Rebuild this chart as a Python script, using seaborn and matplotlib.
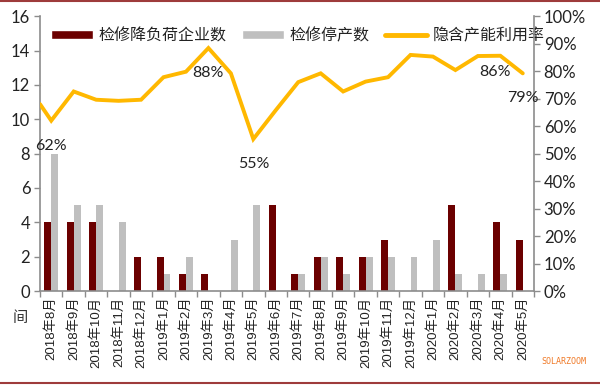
import numpy as np
import pandas as pd
import matplotlib
matplotlib.use("Agg")
import matplotlib.pyplot as plt
import seaborn as sns
from matplotlib.lines import Line2D
from matplotlib.patches import Patch

months = ["2018年8月", "2018年9月", "2018年10月", "2018年11月", "2018年12月",
          "2019年1月", "2019年2月", "2019年3月", "2019年4月", "2019年5月",
          "2019年6月", "2019年7月", "2019年8月", "2019年9月", "2019年10月",
          "2019年11月", "2019年12月", "2020年1月", "2020年2月", "2020年3月",
          "2020年4月", "2020年5月"]
reduced_load = [4, 4, 4, 0, 2, 2, 1, 1, 0, 0, 5, 1, 2, 2, 2, 3, 0, 0, 5, 0, 4, 3]
shutdown = [8, 5, 5, 4, 0, 1, 2, 0, 3, 5, 0, 1, 2, 1, 2, 2, 2, 3, 1, 1, 1, 0]
# utilisation rate (%); first value sits on the left edge of the axis
util_start = 68
utilisation = [62, 72.6, 69.6, 69.2, 69.6, 77.8, 79.8, 88.4, 79.2, 55.3, 65.8,
               76, 79.2, 72.6, 76.2, 77.8, 85.9, 85.3, 80.4, 85.5, 85.6, 79.2]
labelled = {0: "62%", 7: "88%", 9: "55%", 20: "86%", 21: "79%"}

RED = "#6B0000"
GRAY = "#BFBFBF"
ORANGE = "#FFB800"
AXIS = "#8C8C8C"

sns.set_theme(style="white")
plt.rcParams["font.family"] = ["Liberation Sans", "Noto Sans CJK SC", "DejaVu Sans"]

df = pd.DataFrame({"month": months, "检修降负荷企业数": reduced_load, "检修停产数": shutdown})
long = df.melt(id_vars="month", var_name="series", value_name="count")

fig = plt.figure(figsize=(6, 3.85), dpi=100)
ax = fig.add_axes([0.0667, 0.244, 0.8233, 0.714])
sns.barplot(data=long, x="month", y="count", hue="series",
            palette=[RED, GRAY], width=0.62, saturation=1, linewidth=0,
            ax=ax, legend=False)

ax2 = ax.twinx()
x_line = np.r_[-0.5, np.arange(len(months))]
ax2.plot(x_line, np.r_[util_start, utilisation], color=ORANGE, lw=2.8,
         solid_joinstyle="miter", zorder=3)
for i, txt in labelled.items():
    dx, dy = (-4, -12) if i == 20 else (0, -18)
    ax2.annotate(txt, (i, utilisation[i]), xytext=(dx, dy), textcoords="offset points",
                 ha="center", va="center", fontsize=11.5, color="#222222",
                 family=["Lato", "DejaVu Sans"])

ax.set_xlim(-0.5, len(months) - 0.5)
ax.set_ylim(0, 16)
ax.set_yticks(range(0, 17, 2))
ax2.set_ylim(0, 100)
ax2.set_yticks(range(0, 101, 10))
ax2.set_yticklabels([f"{v}%" for v in range(0, 101, 10)])
ax.set_xticks(np.arange(len(months)))
ax.set_xticklabels(months, rotation=90, fontsize=9.5)
ax.set_xticks(np.arange(len(months) + 1) - 0.5, minor=True)
ax.set_xlabel("")
ax.set_ylabel("")

for a in (ax, ax2):
    a.spines["top"].set_visible(False)
    for s in ("left", "right", "bottom"):
        a.spines[s].set_color(AXIS)
        a.spines[s].set_linewidth(1.2)
ax.spines["right"].set_visible(False)
ax2.spines["left"].set_visible(False)
ax2.spines["bottom"].set_visible(False)

ax.tick_params(axis="x", which="major", length=0, pad=4, colors="#222222")
ax.tick_params(axis="x", which="minor", length=4, width=1, color=AXIS, direction="out", bottom=True)
ax.tick_params(axis="y", length=4, width=1, color=AXIS, direction="out", left=True, labelsize=12,
               labelcolor="#222222", pad=3)
ax2.tick_params(axis="y", length=4, width=1, color=AXIS, direction="out", right=True, labelsize=12,
                labelcolor="#222222", pad=3)
for lbl in ax.get_yticklabels() + ax2.get_yticklabels():
    lbl.set_family(["Lato", "DejaVu Sans"])

handles = [Patch(facecolor=RED, label="检修降负荷企业数"),
           Patch(facecolor=GRAY, label="检修停产数"),
           Line2D([], [], color=ORANGE, lw=3.5, label="隐含产能利用率")]
leg = ax.legend(handles=handles, loc="upper left", bbox_to_anchor=(0.0, 1.0), ncol=3,
                frameon=False, handlelength=2.6, handleheight=0.45, handletextpad=0.35,
                columnspacing=1.0, borderaxespad=0.3,
                prop={"family": ["Noto Sans CJK SC"], "size": 11.5})
for t in leg.get_texts():
    t.set_color("#222222")

fig.text(0.033, 0.175, "间", fontsize=11, family=["Noto Sans CJK SC"], ha="center", va="center",
         color="#333333")
fig.text(0.94, 0.06, "SOLARZOOM", fontsize=6, color="#F07A28", ha="center", va="center",
         family=["DejaVu Sans Mono"])
fig.add_artist(Line2D([0, 1], [0.997, 0.997], color="#9E3B3B", lw=1.5))
fig.add_artist(Line2D([0, 1], [0.006, 0.006], color="#9E3B3B", lw=1.5))

fig.savefig("out.png", dpi=100)
